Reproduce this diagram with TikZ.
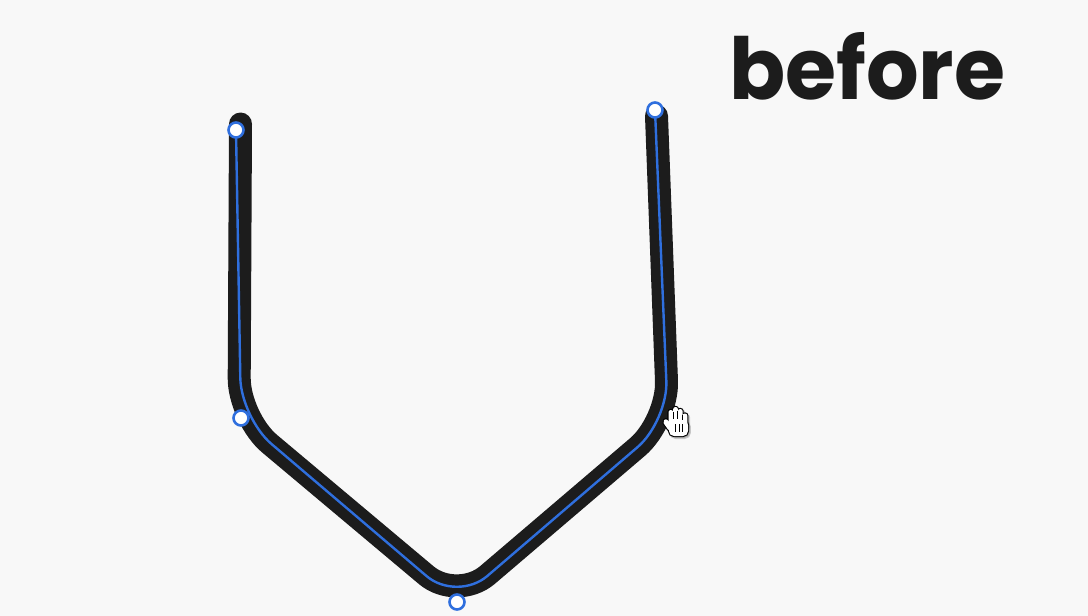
\documentclass[tikz,border=0pt]{standalone}
\usepackage{fontspec}
\newfontfamily\handfont{Poppins}
\definecolor{bgcol}{HTML}{F8F8F8}
\definecolor{inkcol}{HTML}{1C1C1C}
\definecolor{selblue}{HTML}{2F6FDE}
\newcommand{\myhandparts}[1]{%
  \path[#1,rounded corners=2.2pt] (668.5,410) rectangle (673.2,426);
  \path[#1,rounded corners=2.2pt] (673.2,407) rectangle (677.9,426);
  \path[#1,rounded corners=2.2pt] (677.9,409) rectangle (682.6,426);
  \path[#1,rounded corners=2.2pt] (682.6,413.5) rectangle (687.3,427);
  \path[#1,rounded corners=2pt] (662.5,421.5) -- (666,418.5) -- (673,426) -- (669,431) -- cycle;
  \path[#1,rounded corners=5pt] (669,420) rectangle (688,436);
}
\begin{document}
\begin{tikzpicture}[x=1pt,y=-1pt,
  stroke/.style={draw=inkcol,line width=23pt,line cap=round,line join=round,rounded corners=40pt},
  selline/.style={draw=selblue,line width=2.4pt,line cap=round,rounded corners=40pt},
  handle/.style={circle,draw=selblue,fill=white,line width=2.6pt,minimum size=15pt,inner sep=0pt},
  title/.style={inner sep=0pt,anchor=south west,text=inkcol}]
\fill[bgcol] (0,0) rectangle (1088,616);
\useasboundingbox (0,0) rectangle (1088,616);
% black stroke coordinates
\coordinate (s1) at (240.5,124);
\coordinate (s2) at (239,418);
\coordinate (s3) at (457,601);
\coordinate (s4) at (668,421);
\coordinate (s5) at (656.5,116);
\draw[stroke] (s1) -- (s2) -- (s3) -- (s4) -- (s5);
% selection line through the points
\coordinate (p1) at (236,130);
\coordinate (p2) at (241,418);
\coordinate (p3) at (457,602);
\coordinate (p4) at (668,421);
\coordinate (p5) at (655,110);
\draw[selline] (p1) -- (p2) -- (p3) -- (p4) -- (p5);
\node[handle] (h1) at (p1) {};
\node[handle] (h2) at (p2) {};
\node[handle] (h3) at (p3) {};
\node[handle] (h5) at (p5) {};
% hand cursor
\begin{scope}[shift={(1.6,1.8)}]
\myhandparts{fill=black!45,fill opacity=0.45,draw=black!45,draw opacity=0.45,line width=2.4pt}
\end{scope}
\myhandparts{draw=black,fill=white,line width=2.2pt}
\myhandparts{fill=white}
\draw[line width=0.9pt] (673.2,411.5) -- (673.2,419) (677.9,410.5) -- (677.9,419) (682.6,414.5) -- (682.6,420);
\draw[line width=1.2pt] (675.8,424) -- (675.8,432) (679.2,424) -- (679.2,432) (682.6,424) -- (682.6,432);
% title
\node[title] (t) at (729,100) {\resizebox{276pt}{67pt}{\handfont\bfseries before}};
\end{tikzpicture}
\end{document}
